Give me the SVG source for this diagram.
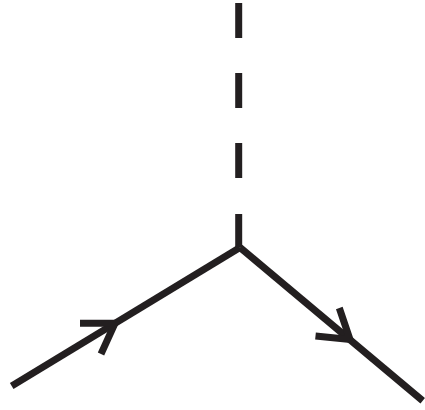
<svg xmlns="http://www.w3.org/2000/svg" width="425" height="410" viewBox="0 0 425 410">
  <style>
    .line { fill: none; stroke: #231f20; stroke-width: 7; stroke-linecap: butt; stroke-linejoin: miter; }
  </style>
  <rect width="425" height="410" fill="#ffffff"/>
  <g id="connectors">
    <path id="dash-1" class="line" d="M238.7 3V38"/>
    <path id="dash-2" class="line" d="M238.7 73V108"/>
    <path id="dash-3" class="line" d="M238.7 143V178"/>
    <path id="dash-4" class="line" d="M238.7 214V247"/>
    <path id="incoming" class="line" d="M11.7 386L240 247.5"/>
    <path id="outgoing" class="line" d="M240 247.5L422.7 400.7"/>
    <path id="arrow-in" class="line" d="M80 323.3H115L101 354"/>
    <path id="arrow-out" class="line" d="M315.5 336L350 339.5L339.3 308"/>
  </g>
</svg>
